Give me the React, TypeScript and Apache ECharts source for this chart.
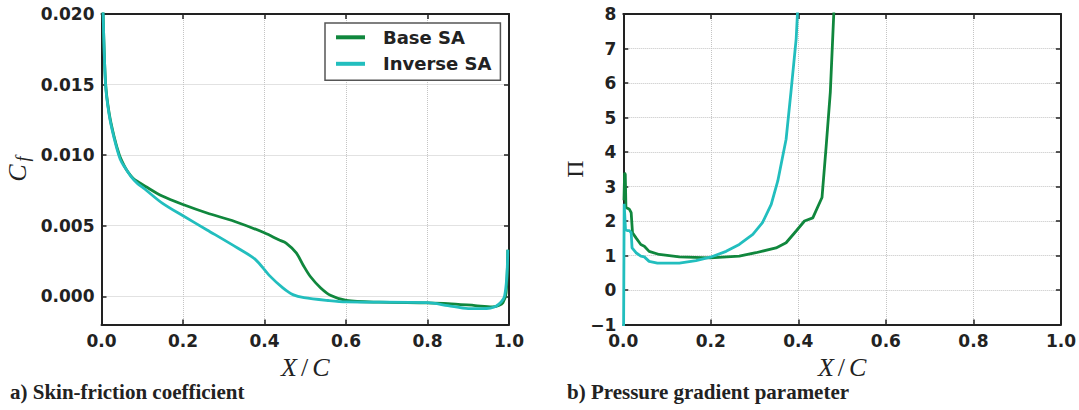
import React, { useEffect, useRef } from "react";
import * as echarts from "echarts";

// ---- data ----
const seriesNames = ["Base SA", "Inverse SA"];
const xTickLabels = ["0.0", "0.2", "0.4", "0.6", "0.8", "1.0"];
const cfTickLabels = ["0.000", "0.005", "0.010", "0.015", "0.020"];
const piTickLabels = ["\u22121", "0", "1", "2", "3", "4", "5", "6", "7", "8"];

// Skin-friction coefficient, Base SA: [X/C, Cf]
const baseCf: [number, number][] = [
  [0.003, 0.0225], [0.004, 0.02], [0.01, 0.0151], [0.0186, 0.013], [0.031, 0.0113],
  [0.044, 0.01], [0.055, 0.0093], [0.065, 0.0088], [0.078, 0.00835], [0.09, 0.0081],
  [0.107, 0.0078], [0.149, 0.0071], [0.2, 0.0065], [0.259, 0.0059], [0.327, 0.0053],
  [0.401, 0.00448], [0.435, 0.004], [0.453, 0.00377], [0.478, 0.00307], [0.495, 0.0022],
  [0.512, 0.00142], [0.538, 0.00059], [0.563, 0.00005], [0.601, -0.0003], [0.681, -0.00042],
  [0.8, -0.00047], [0.85, -0.00052], [0.917, -0.00066], [0.959, -0.00075], [0.975, -0.00065],
  [0.985, -0.00047], [0.993, 0.00024], [0.997, 0.0033],
];

// Skin-friction coefficient, Inverse SA: [X/C, Cf]
const inverseCf: [number, number][] = [
  [0.003, 0.0225], [0.004, 0.02], [0.01, 0.015], [0.0186, 0.0129], [0.031, 0.0112],
  [0.046, 0.0097], [0.058, 0.0091], [0.072, 0.0085], [0.088, 0.008], [0.106, 0.0076],
  [0.149, 0.0066], [0.2, 0.0057], [0.259, 0.0047], [0.335, 0.0034], [0.378, 0.0026],
  [0.411, 0.0015], [0.445, 0.0006], [0.471, 0.0001], [0.497, -0.0001], [0.556, -0.0003],
  [0.6, -0.0004], [0.8, -0.00045], [0.85, -0.00066], [0.9, -0.00087], [0.934, -0.00087],
  [0.968, -0.0007], [0.989, 0.0], [0.997, 0.0033],
];

// Pressure gradient parameter, Base SA: [X/C, Pi]
const basePi: [number, number][] = [
  [0.0015, 2.6], [0.003, 3.4], [0.0045, 3.35], [0.006, 2.39], [0.014, 2.34], [0.018, 2.24],
  [0.021, 1.66], [0.029, 1.51], [0.04, 1.32], [0.048, 1.27], [0.059, 1.12], [0.082, 1.03],
  [0.128, 0.96], [0.199, 0.93], [0.265, 0.98], [0.303, 1.08], [0.349, 1.22], [0.372, 1.37],
  [0.395, 1.71], [0.414, 2.0], [0.433, 2.09], [0.454, 2.68], [0.463, 4.08], [0.473, 5.73],
  [0.481, 8.03], [0.485, 9.5],
];

// Pressure gradient parameter, Inverse SA: [X/C, Pi]
const inversePi: [number, number][] = [
  [0.0005, -1.5], [0.002, 2.5], [0.005, 1.75], [0.009, 1.72], [0.014, 1.72], [0.018, 1.66],
  [0.02, 1.22], [0.029, 1.08], [0.04, 0.98], [0.048, 0.96], [0.059, 0.83], [0.078, 0.78],
  [0.128, 0.78], [0.166, 0.85], [0.199, 0.95], [0.235, 1.12], [0.265, 1.32], [0.296, 1.61],
  [0.318, 1.95], [0.338, 2.48], [0.353, 3.16], [0.372, 4.37], [0.383, 5.73], [0.395, 7.28],
  [0.398, 8.03], [0.401, 9.5],
];

const GREEN = "#10873d";
const CYAN = "#22bebe";
const INK = "#222222";
const GRIDC = "#c4c4c4";
const TICK_FONT = { fontFamily: "DejaVu Sans", fontWeight: "bold" as const, fontSize: 17, color: INK };

function xAxes(gridIndex: number) {
  const base = {
    gridIndex,
    type: "value" as const,
    min: 0,
    max: 1,
    interval: 0.2,
    axisLine: { onZero: false, lineStyle: { color: INK, width: 2 } },
    axisTick: { inside: true, length: 5, lineStyle: { color: INK, width: 1.5 } },
  };
  return [
    {
      ...base,
      position: "bottom" as const,
      axisLabel: {
        ...TICK_FONT,
        margin: 8,
        formatter: (v: number) => xTickLabels[Math.round(v / 0.2)] ?? "",
      },
      splitLine: { show: true, lineStyle: { color: GRIDC, type: "dotted" as const, width: 1 } },
      name: "{i|X}{s|/}{i|C}",
      nameLocation: "middle" as const,
      nameGap: 29,
      nameTextStyle: {
        rich: {
          i: { fontFamily: "Liberation Serif", fontStyle: "italic", fontSize: 26, color: INK },
          s: { fontFamily: "Liberation Serif", fontSize: 26, color: INK, padding: [0, 4, 0, 4] },
        },
      },
    },
    {
      ...base,
      position: "top" as const,
      axisLabel: { show: false },
      splitLine: { show: false },
    },
  ];
}

export default function App() {
  const ref = useRef<HTMLDivElement>(null);

  useEffect(() => {
    document.body.style.margin = "0";
    const chart = echarts.init(ref.current!, null, { renderer: "svg", width: 1079, height: 410 });

    const yBaseCommon = {
      type: "value" as const,
      axisLine: { onZero: false, lineStyle: { color: INK, width: 2 } },
      axisTick: { inside: true, length: 5, lineStyle: { color: INK, width: 1.5 } },
    };

    const option: any = {
      animation: false,
      backgroundColor: "#ffffff",
      grid: [
        { left: 101.5, top: 14, width: 407.5, height: 310.5 },
        { left: 623.3, top: 14, width: 439.5, height: 310.5 },
      ],
      xAxis: [...xAxes(0), ...xAxes(1)],
      yAxis: [
        {
          ...yBaseCommon,
          gridIndex: 0,
          position: "left",
          min: -0.002,
          max: 0.02,
          minInterval: 0.005,
          maxInterval: 0.005,
          axisLabel: {
            ...TICK_FONT,
            margin: 7,
            showMinLabel: false,
            formatter: (v: number) => {
              const i = Math.round(v / 0.005);
              return Math.abs(v - i * 0.005) < 1e-9 ? cfTickLabels[i] ?? "" : "";
            },
          },
          splitLine: { show: true, lineStyle: { color: GRIDC, type: "dotted", width: 1 } },
        },
        {
          ...yBaseCommon,
          gridIndex: 0,
          position: "right",
          min: -0.002,
          max: 0.02,
          minInterval: 0.005,
          maxInterval: 0.005,
          axisLabel: { show: false },
          splitLine: { show: false },
        },
        {
          ...yBaseCommon,
          gridIndex: 1,
          position: "left",
          min: -1,
          max: 8,
          interval: 1,
          axisLabel: {
            ...TICK_FONT,
            margin: 7,
            formatter: (v: number) => piTickLabels[Math.round(v) + 1] ?? "",
          },
          splitLine: { show: true, lineStyle: { color: GRIDC, type: "dotted", width: 1 } },
        },
        {
          ...yBaseCommon,
          gridIndex: 1,
          position: "right",
          min: -1,
          max: 8,
          interval: 1,
          axisLabel: { show: false },
          splitLine: { show: false },
        },
      ],
      legend: {
        data: seriesNames,
        orient: "vertical",
        left: 325,
        top: 23,
        icon: "rect",
        itemWidth: 29,
        itemHeight: 4,
        itemGap: 6.5,
        padding: [4.3, 9, 6.5, 11],
        borderColor: "#555555",
        borderWidth: 1.5,
        borderRadius: 0,
        backgroundColor: "#ffffff",
        textStyle: {
          fontFamily: "DejaVu Sans", fontWeight: "bold", fontSize: 18, color: INK,
          lineHeight: 20, padding: [0, 0, 0, 13],
        },
      },
      series: [
        {
          name: seriesNames[0], type: "line", xAxisIndex: 0, yAxisIndex: 0, data: baseCf,
          symbol: "none", smooth: 0.3, lineStyle: { color: GREEN, width: 2.8 }, itemStyle: { color: GREEN }, z: 3,
        },
        {
          name: seriesNames[1], type: "line", xAxisIndex: 0, yAxisIndex: 0, data: inverseCf,
          symbol: "none", smooth: 0.3, lineStyle: { color: CYAN, width: 2.8 }, itemStyle: { color: CYAN }, z: 4,
        },
        {
          name: seriesNames[0], type: "line", xAxisIndex: 2, yAxisIndex: 2, data: basePi,
          symbol: "none", lineStyle: { color: GREEN, width: 2.8 }, itemStyle: { color: GREEN }, z: 3,
        },
        {
          name: seriesNames[1], type: "line", xAxisIndex: 2, yAxisIndex: 2, data: inversePi,
          symbol: "none", lineStyle: { color: CYAN, width: 2.8 }, itemStyle: { color: CYAN }, z: 4,
        },
      ],
      graphic: [
        {
          type: "text", x: 17, y: 173, rotation: Math.PI / 2,
          style: { text: "C", fontFamily: "Liberation Serif", fontStyle: "italic", fontSize: 26, fill: INK, align: "center", verticalAlign: "middle" },
        },
        {
          type: "text", x: 23, y: 159, rotation: Math.PI / 2,
          style: { text: "f", fontFamily: "Liberation Serif", fontStyle: "italic", fontSize: 18, fill: INK, align: "center", verticalAlign: "middle" },
        },
        {
          type: "text", x: 575, y: 169, rotation: Math.PI / 2,
          style: { text: "\u03A0", fontFamily: "Liberation Serif", fontSize: 24, fill: INK, align: "center", verticalAlign: "middle" },
        },
        {
          type: "text", x: 10, y: 392,
          style: { text: "a) Skin-friction coefficient", fontFamily: "Liberation Serif", fontWeight: "bold", fontSize: 21, fill: INK, align: "left", verticalAlign: "middle" },
        },
        {
          type: "text", x: 567, y: 392,
          style: { text: "b) Pressure gradient parameter", fontFamily: "Liberation Serif", fontWeight: "bold", fontSize: 21, fill: INK, align: "left", verticalAlign: "middle" },
        },
      ],
    };

    chart.setOption(option);
    return () => chart.dispose();
  }, []);

  return <div ref={ref} style={{ width: 1079, height: 410 }} />;
}
